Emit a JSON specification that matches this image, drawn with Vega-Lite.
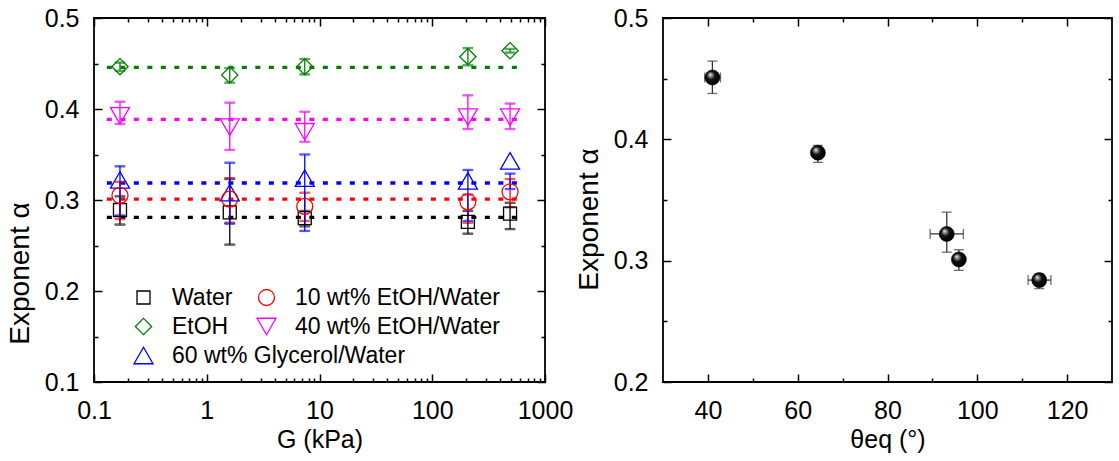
{
  "$schema": "https://vega.github.io/schema/vega-lite/v6.json",
  "background": "white",
  "padding": {"left": 5, "top": 5, "right": 4, "bottom": 5},
  "spacing": 0,
  "config": {
    "font": "Liberation Sans",
    "view": {"stroke": "black", "strokeWidth": 1.8},
    "axis": {
      "labelFont": "Liberation Sans", "labelFontSize": 25, "labelColor": "black",
      "titleFont": "Liberation Sans", "titleFontSize": 25, "titleFontWeight": "normal", "titleColor": "black",
      "tickColor": "black", "tickWidth": 1.5, "domain": false, "grid": false,
      "labelFlush": false, "labelOverlap": false
    },
    "legend": {
      "labelFont": "Liberation Sans", "labelFontSize": 23, "labelColor": "black", "labelLimit": 400,
      "padding": 0, "symbolStrokeWidth": 1.3
    }
  },
  "datasets": {
    "pts": [
      {"series": "Water", "G": 0.17, "alpha": 0.289, "lo": 0.273, "hi": 0.304},
      {"series": "Water", "G": 1.6, "alpha": 0.2865, "lo": 0.251, "hi": 0.323},
      {"series": "Water", "G": 7.4, "alpha": 0.28, "lo": 0.271, "hi": 0.288},
      {"series": "Water", "G": 207, "alpha": 0.276, "lo": 0.263, "hi": 0.288},
      {"series": "Water", "G": 490, "alpha": 0.285, "lo": 0.268, "hi": 0.297},
      {"series": "10 wt% EtOH/Water", "G": 0.17, "alpha": 0.305, "lo": 0.279, "hi": 0.32},
      {"series": "10 wt% EtOH/Water", "G": 1.6, "alpha": 0.301, "lo": 0.275, "hi": 0.324},
      {"series": "10 wt% EtOH/Water", "G": 7.4, "alpha": 0.293, "lo": 0.277, "hi": 0.308},
      {"series": "10 wt% EtOH/Water", "G": 207, "alpha": 0.298, "lo": 0.275, "hi": 0.306},
      {"series": "10 wt% EtOH/Water", "G": 490, "alpha": 0.309, "lo": 0.292, "hi": 0.323},
      {"series": "EtOH", "G": 0.17, "alpha": 0.4465, "lo": 0.442, "hi": 0.451},
      {"series": "EtOH", "G": 1.6, "alpha": 0.4374, "lo": 0.429, "hi": 0.445},
      {"series": "EtOH", "G": 7.4, "alpha": 0.4465, "lo": 0.438, "hi": 0.455},
      {"series": "EtOH", "G": 207, "alpha": 0.4575, "lo": 0.448, "hi": 0.467},
      {"series": "EtOH", "G": 490, "alpha": 0.464, "lo": 0.462, "hi": 0.466},
      {"series": "40 wt% EtOH/Water", "G": 0.17, "alpha": 0.3925, "lo": 0.3835, "hi": 0.408},
      {"series": "40 wt% EtOH/Water", "G": 1.6, "alpha": 0.38, "lo": 0.355, "hi": 0.407},
      {"series": "40 wt% EtOH/Water", "G": 7.4, "alpha": 0.375, "lo": 0.364, "hi": 0.397},
      {"series": "40 wt% EtOH/Water", "G": 207, "alpha": 0.391, "lo": 0.378, "hi": 0.415},
      {"series": "40 wt% EtOH/Water", "G": 490, "alpha": 0.391, "lo": 0.378, "hi": 0.406},
      {"series": "60 wt% Glycerol/Water", "G": 0.17, "alpha": 0.322, "lo": 0.283, "hi": 0.337},
      {"series": "60 wt% Glycerol/Water", "G": 1.6, "alpha": 0.308, "lo": 0.274, "hi": 0.341},
      {"series": "60 wt% Glycerol/Water", "G": 7.4, "alpha": 0.324, "lo": 0.266, "hi": 0.35},
      {"series": "60 wt% Glycerol/Water", "G": 207, "alpha": 0.321, "lo": 0.277, "hi": 0.333},
      {"series": "60 wt% Glycerol/Water", "G": 490, "alpha": 0.343, "lo": 0.312, "hi": 0.329}
    ],
    "fits": [
      {"series": "Water", "g0": 0.13, "g1": 600, "alpha": 0.281},
      {"series": "10 wt% EtOH/Water", "g0": 0.13, "g1": 600, "alpha": 0.301},
      {"series": "EtOH", "g0": 0.13, "g1": 600, "alpha": 0.4458},
      {"series": "40 wt% EtOH/Water", "g0": 0.13, "g1": 600, "alpha": 0.3887},
      {"series": "60 wt% Glycerol/Water", "g0": 0.13, "g1": 600, "alpha": 0.3187}
    ],
    "theta": [
      {"theta": 41.0, "alpha": 0.451, "alo": 0.4378, "ahi": 0.4645, "tlo": 39.3, "thi": 42.8},
      {"theta": 64.5, "alpha": 0.389, "alo": 0.381, "ahi": 0.395, "tlo": 64.1, "thi": 64.9},
      {"theta": 93.2, "alpha": 0.322, "alo": 0.307, "ahi": 0.34, "tlo": 89.5, "thi": 96.9},
      {"theta": 95.9, "alpha": 0.301, "alo": 0.292, "ahi": 0.309, "tlo": 95.3, "thi": 96.5},
      {"theta": 113.8, "alpha": 0.284, "alo": 0.277, "ahi": 0.289, "tlo": 111.3, "thi": 116.4}
    ]
  },
  "hconcat": [
    {
      "width": 451,
      "height": 364,
      "layer": [
        {
          "data": {"name": "fits"},
          "mark": {"type": "rule", "strokeWidth": 3.3, "strokeDash": [5, 8.5]},
          "encoding": {
            "x": {"field": "g0", "type": "quantitative", "scale": {"type": "log", "domain": [0.1, 1000]},
              "axis": {"orient": "top", "values": [0.1, 1, 10, 100, 1000], "labels": false, "title": null, "tickSize": -8}},
            "x2": {"field": "g1"},
            "y": {"field": "alpha", "type": "quantitative", "scale": {"domain": [0.1, 0.5], "zero": false},
              "axis": {"orient": "right", "values": [0.1, 0.2, 0.3, 0.4, 0.5], "labels": false, "title": null, "tickSize": -8}},
            "stroke": {"field": "series", "type": "nominal", "legend": null,
              "scale": {"range": ["#ff0000", "#ff00ff", "#0000ff", "#008000", "#000000"]}}
          }
        },
        {
          "data": {"name": "pts"},
          "mark": {"type": "errorbar", "ticks": {"size": 10, "thickness": 1.3}, "rule": {"strokeWidth": 1.3}},
          "encoding": {
            "x": {"field": "G", "type": "quantitative", "axis": null},
            "y": {"field": "lo", "type": "quantitative", "axis": null},
            "y2": {"field": "hi"},
            "stroke": {"field": "series", "type": "nominal", "legend": null}
          }
        },
        {
          "data": {"name": "pts"},
          "transform": [{"filter": {"field": "series", "oneOf": ["Water", "EtOH", "60 wt% Glycerol/Water"]}}],
          "mark": {"type": "point", "filled": false, "strokeWidth": 1.3, "opacity": 1},
          "encoding": {
            "x": {"field": "G", "type": "quantitative",
              "axis": {"orient": "bottom", "values": [0.1, 1, 10, 100, 1000], "format": "~g", "title": "G (kPa)", "tickSize": -8, "labelPadding": 24, "titlePadding": 4}},
            "y": {"field": "alpha", "type": "quantitative",
              "axis": {"orient": "left", "values": [0.1, 0.2, 0.3, 0.4, 0.5], "format": ".1f", "title": "Exponent α", "titleFontSize": 28, "tickSize": -8, "labelPadding": 23, "titlePadding": 10, "titleY": 255}},
            "color": {"field": "series", "type": "nominal",
              "scale": {"domain": ["Water", "EtOH", "60 wt% Glycerol/Water"], "range": ["#000000", "#008000", "#0000ff"]},
              "legend": {"title": null, "orient": "none", "direction": "vertical", "legendX": 38, "legendY": 268, "rowPadding": 5, "labelOffset": 17, "labelFontSize": 23, "labelLimit": 400}},
            "shape": {"field": "series", "type": "nominal",
              "scale": {"domain": ["Water", "EtOH", "60 wt% Glycerol/Water"], "range": ["square", "diamond", "triangle-up"]}},
            "size": {"field": "series", "type": "nominal",
              "scale": {"domain": ["Water", "EtOH", "60 wt% Glycerol/Water"], "range": [169, 361, 361]}}
          }
        },
        {
          "data": {"name": "pts"},
          "transform": [{"filter": {"field": "series", "oneOf": ["10 wt% EtOH/Water", "40 wt% EtOH/Water"]}}],
          "mark": {"type": "point", "filled": false, "strokeWidth": 1.3, "opacity": 1},
          "encoding": {
            "x": {"field": "G", "type": "quantitative", "axis": null},
            "y": {"field": "alpha", "type": "quantitative", "axis": null},
            "color": {"field": "series", "type": "nominal",
              "scale": {"domain": ["10 wt% EtOH/Water", "40 wt% EtOH/Water"], "range": ["#ff0000", "#ff00ff"]},
              "legend": {"title": null, "orient": "none", "direction": "vertical", "legendX": 161, "legendY": 268, "rowPadding": 5, "labelOffset": 17, "labelFontSize": 23, "labelLimit": 400}},
            "shape": {"field": "series", "type": "nominal",
              "scale": {"domain": ["10 wt% EtOH/Water", "40 wt% EtOH/Water"], "range": ["circle", "triangle-down"]}},
            "size": {"field": "series", "type": "nominal",
              "scale": {"domain": ["10 wt% EtOH/Water", "40 wt% EtOH/Water"], "range": [256, 361]}}
          }
        },
        {
          "data": {"name": "pts"},
          "mark": {"type": "point", "opacity": 0},
          "encoding": {
            "x": {"field": "G", "type": "quantitative",
              "axis": {"orient": "bottom", "values": [0.2, 0.3, 0.4, 0.5, 0.6, 0.7, 0.8, 0.9, 2, 3, 4, 5, 6, 7, 8, 9, 20, 30, 40, 50, 60, 70, 80, 90, 200, 300, 400, 500, 600, 700, 800, 900], "labels": false, "title": null, "tickSize": -4}},
            "y": {"field": "alpha", "type": "quantitative",
              "axis": {"orient": "left", "values": [0.15, 0.25, 0.35, 0.45], "labels": false, "title": null, "tickSize": -4}}
          }
        },
        {
          "data": {"name": "pts"},
          "mark": {"type": "point", "opacity": 0},
          "encoding": {
            "x": {"field": "G", "type": "quantitative",
              "axis": {"orient": "top", "values": [0.2, 0.3, 0.4, 0.5, 0.6, 0.7, 0.8, 0.9, 2, 3, 4, 5, 6, 7, 8, 9, 20, 30, 40, 50, 60, 70, 80, 90, 200, 300, 400, 500, 600, 700, 800, 900], "labels": false, "title": null, "tickSize": -4}},
            "y": {"field": "alpha", "type": "quantitative",
              "axis": {"orient": "right", "values": [0.15, 0.25, 0.35, 0.45], "labels": false, "title": null, "tickSize": -4}}
          }
        }
      ],
      "resolve": {
        "axis": {"x": "independent", "y": "independent"},
        "scale": {"color": "independent", "shape": "independent", "size": "independent"}
      }
    },
    {
      "width": 449,
      "height": 364,
      "data": {"name": "theta"},
      "layer": [
        {
          "mark": {"type": "errorbar", "color": "#333333", "ticks": {"size": 10, "thickness": 1.3}, "rule": {"strokeWidth": 1.3}},
          "encoding": {
            "x": {"field": "theta", "type": "quantitative", "scale": {"domain": [30, 125], "zero": false}, "axis": null},
            "y": {"field": "alo", "type": "quantitative", "scale": {"domain": [0.2, 0.5], "zero": false}, "axis": null},
            "y2": {"field": "ahi"}
          }
        },
        {
          "mark": {"type": "errorbar", "color": "#333333", "ticks": {"size": 10, "thickness": 1.3}, "rule": {"strokeWidth": 1.3}},
          "encoding": {
            "y": {"field": "alpha", "type": "quantitative", "scale": {"domain": [0.2, 0.5], "zero": false}, "axis": null},
            "x": {"field": "tlo", "type": "quantitative", "scale": {"domain": [30, 125], "zero": false}, "axis": null},
            "x2": {"field": "thi"}
          }
        },
        {
          "mark": {"type": "point", "shape": "circle", "size": 225, "filled": true, "opacity": 1,
            "fill": {"gradient": "radial", "x1": 0.35, "y1": 0.3, "r1": 0, "x2": 0.45, "y2": 0.45, "r2": 0.55,
              "stops": [{"offset": 0, "color": "#f2f2f2"}, {"offset": 0.22, "color": "#8a8a8a"}, {"offset": 0.5, "color": "#111111"}, {"offset": 1, "color": "#000000"}]},
            "stroke": "black", "strokeWidth": 0.6},
          "encoding": {
            "x": {"field": "theta", "type": "quantitative", "scale": {"domain": [30, 125], "zero": false},
              "axis": {"orient": "bottom", "values": [40, 60, 80, 100, 120], "title": "θeq (°)", "tickSize": -8, "labelPadding": 24, "titlePadding": 4}},
            "y": {"field": "alpha", "type": "quantitative", "scale": {"domain": [0.2, 0.5], "zero": false},
              "axis": {"orient": "left", "values": [0.2, 0.3, 0.4, 0.5], "format": ".1f", "title": "Exponent α", "titleFontSize": 28, "tickSize": -8, "labelPadding": 23, "titlePadding": 10, "titleY": 201}}
          }
        },
        {
          "mark": {"type": "point", "opacity": 0},
          "encoding": {
            "x": {"field": "theta", "type": "quantitative",
              "axis": {"orient": "bottom", "values": [50, 70, 90, 110], "labels": false, "title": null, "tickSize": -4}},
            "y": {"field": "alpha", "type": "quantitative",
              "axis": {"orient": "left", "values": [0.25, 0.35, 0.45], "labels": false, "title": null, "tickSize": -4}}
          }
        },
        {
          "mark": {"type": "point", "opacity": 0},
          "encoding": {
            "x": {"field": "theta", "type": "quantitative",
              "axis": {"orient": "top", "values": [40, 60, 80, 100, 120], "labels": false, "title": null, "tickSize": -8}},
            "y": {"field": "alpha", "type": "quantitative",
              "axis": {"orient": "right", "values": [0.2, 0.3, 0.4, 0.5], "labels": false, "title": null, "tickSize": -8}}
          }
        },
        {
          "mark": {"type": "point", "opacity": 0},
          "encoding": {
            "x": {"field": "theta", "type": "quantitative",
              "axis": {"orient": "top", "values": [50, 70, 90, 110], "labels": false, "title": null, "tickSize": -4}},
            "y": {"field": "alpha", "type": "quantitative",
              "axis": {"orient": "right", "values": [0.25, 0.35, 0.45], "labels": false, "title": null, "tickSize": -4}}
          }
        }
      ],
      "resolve": {"axis": {"x": "independent", "y": "independent"}}
    }
  ]
}
